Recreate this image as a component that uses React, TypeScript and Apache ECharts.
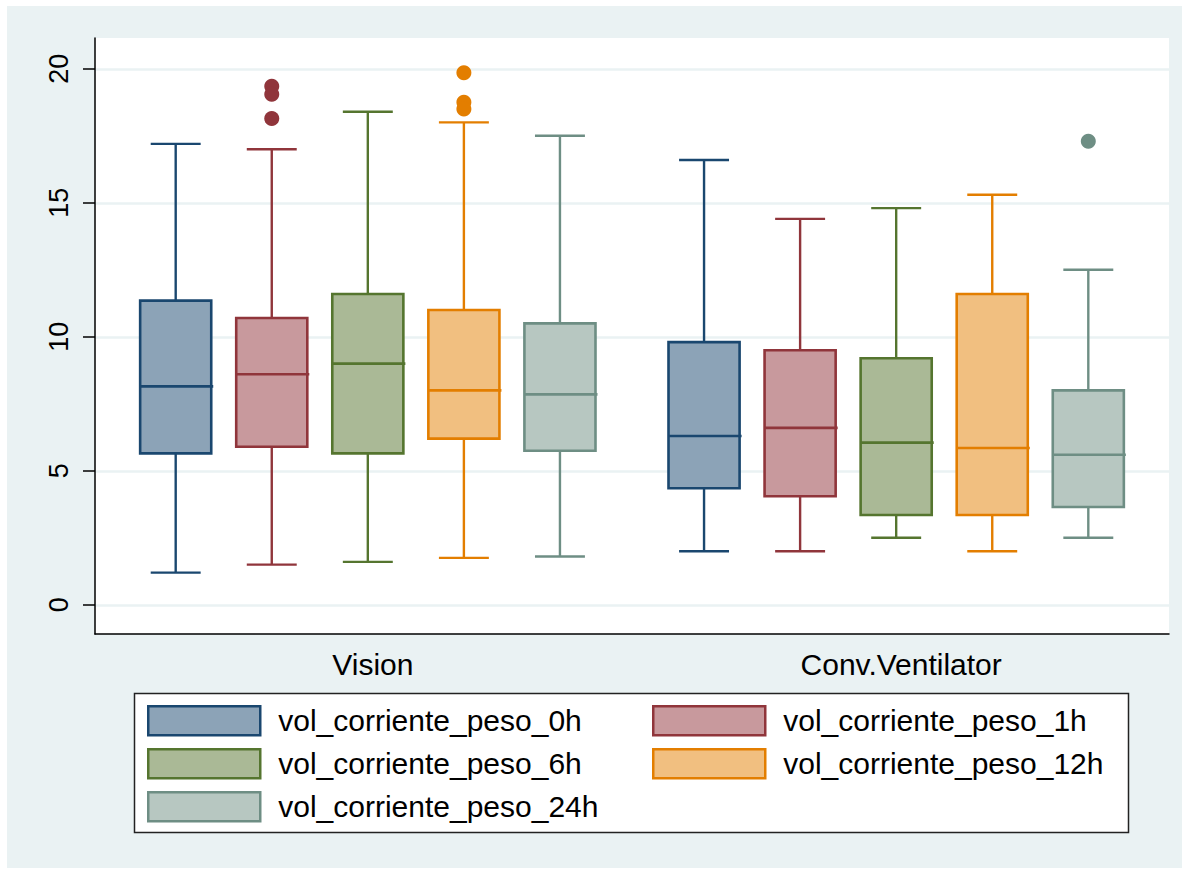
import React, { useEffect, useRef } from "react";
import * as echarts from "echarts";

// Groups on the horizontal axis and the five tidal-volume measurements
const groups = ["Vision", "Conv.Ventilator"];
const seriesNames = [
  "vol_corriente_peso_0h",
  "vol_corriente_peso_1h",
  "vol_corriente_peso_6h",
  "vol_corriente_peso_12h",
  "vol_corriente_peso_24h",
];

// Box statistics per group: [lower adjacent, Q1, median, Q3, upper adjacent]
const stats0h = [
  [1.2, 5.65, 8.15, 11.35, 17.2],
  [2.0, 4.35, 6.3, 9.8, 16.6],
];
const stats1h = [
  [1.5, 5.9, 8.6, 10.7, 17.0],
  [2.0, 4.05, 6.6, 9.5, 14.4],
];
const stats6h = [
  [1.6, 5.65, 9.0, 11.6, 18.4],
  [2.5, 3.35, 6.05, 9.2, 14.8],
];
const stats12h = [
  [1.75, 6.2, 8.0, 11.0, 18.0],
  [2.0, 3.35, 5.85, 11.6, 15.3],
];
const stats24h = [
  [1.8, 5.75, 7.85, 10.5, 17.5],
  [2.5, 3.65, 5.6, 8.0, 12.5],
];

// Outside values per group
const outliers0h = [[], []];
const outliers1h = [[19.35, 19.05, 18.15], []];
const outliers6h = [[], []];
const outliers12h = [[19.85, 18.75, 18.5], []];
const outliers24h = [[], [17.3]];

const yTicks = [0, 5, 10, 15, 20];

const allStats = [stats0h, stats1h, stats6h, stats12h, stats24h];
const allOutliers = [outliers0h, outliers1h, outliers6h, outliers12h, outliers24h];

// Stata s2color palette: outline / fill
const lineColors = ["#1A476F", "#90353B", "#55752F", "#E37E00", "#6E8E84"];
const fillColors = ["#8CA3B7", "#C8999D", "#AAB996", "#F1BF80", "#B7C7C1"];

const FONT = "'Liberation Sans', Arial, Helvetica, sans-serif";
const BG = "#EAF2F3";
const BOX_W = 0.74; // box width in slot units
const CAP_W = 0.52; // whisker cap width in slot units

// slot position of a box on the horizontal value axis
const slot = (g: number, s: number) => 1 + s + g * (seriesNames.length + 0.5);
const groupCenters = groups.map(
  (_, g) => (slot(g, 0) + slot(g, seriesNames.length - 1)) / 2
);

function buildOption() {
  const boxSeries = seriesNames.map((name, s) => ({
    name,
    type: "custom",
    itemStyle: { color: fillColors[s], borderColor: lineColors[s] },
    encode: { x: 0, y: [1, 2, 3, 4, 5] },
    data: groups.map((_, g) => [slot(g, s), ...allStats[s][g]]),
    renderItem: (_params: any, api: any) => {
      const x = api.value(0);
      const lo = api.coord([x, api.value(1)]);
      const q1 = api.coord([x, api.value(2)]);
      const md = api.coord([x, api.value(3)]);
      const q3 = api.coord([x, api.value(4)]);
      const hi = api.coord([x, api.value(5)]);
      const bw = api.size([BOX_W, 0])[0];
      const cw = api.size([CAP_W, 0])[0];
      const cx = lo[0];
      const ls = { stroke: lineColors[s], lineWidth: 2.4, fill: null };
      return {
        type: "group",
        children: [
          { type: "line", shape: { x1: cx, y1: q3[1], x2: cx, y2: hi[1] }, style: ls },
          { type: "line", shape: { x1: cx, y1: q1[1], x2: cx, y2: lo[1] }, style: ls },
          { type: "line", shape: { x1: cx - cw / 2, y1: hi[1], x2: cx + cw / 2, y2: hi[1] }, style: ls },
          { type: "line", shape: { x1: cx - cw / 2, y1: lo[1], x2: cx + cw / 2, y2: lo[1] }, style: ls },
          {
            type: "rect",
            shape: { x: cx - bw / 2, y: q3[1], width: bw, height: q1[1] - q3[1] },
            style: { fill: fillColors[s], stroke: lineColors[s], lineWidth: 2.6 },
          },
          {
            type: "line",
            shape: { x1: cx - bw / 2, y1: md[1], x2: cx + bw / 2 + 2, y2: md[1] },
            style: { stroke: lineColors[s], lineWidth: 2.6 },
          },
        ],
      };
    },
  }));

  const outlierSeries = seriesNames.map((name, s) => ({
    name,
    type: "scatter",
    symbol: "circle",
    symbolSize: 15,
    itemStyle: { color: lineColors[s], opacity: 1 },
    data: groups.flatMap((_, g) => allOutliers[s][g].map((v) => [slot(g, s), v])),
  }));

  const legendItem = (s: number) => ({
    name: seriesNames[s],
    icon: "rect",
    itemStyle: { color: fillColors[s], borderColor: lineColors[s], borderWidth: 2.5 },
  });
  const legendBase = {
    orient: "vertical",
    top: 699,
    padding: 0,
    itemWidth: 112,
    itemHeight: 29,
    itemGap: 11.5,
    selectedMode: true,
    textStyle: {
      fontFamily: FONT,
      fontSize: 30,
      color: "#000",
      lineHeight: 31,
      padding: [0, 0, 0, 13],
    },
  };

  return {
    animation: false,
    backgroundColor: BG,
    textStyle: { fontFamily: FONT },
    grid: {
      left: 88,
      top: 32,
      right: 13,
      bottom: 234,
      show: true,
      backgroundColor: "#ffffff",
      borderWidth: 0,
      containLabel: false,
      outerBoundsMode: "none",
    },
    xAxis: {
      type: "value",
      min: 0.16,
      max: 11.34,
      axisLine: { show: true, onZero: false, lineStyle: { color: "#000", width: 1.5 } },
      axisTick: { show: false },
      splitLine: { show: false },
      axisLabel: {
        customValues: groupCenters,
        formatter: (v: number) => {
          const i = groupCenters.findIndex((c) => Math.abs(c - v) < 1e-6);
          return i >= 0 ? groups[i] : "";
        },
        fontFamily: FONT,
        fontSize: 30,
        color: "#000",
        margin: 15,
        padding: [0, 0, 0, 10],
      },
    },
    yAxis: {
      type: "value",
      min: -1.09,
      max: 21.15,
      axisLine: { show: true, onZero: false, lineStyle: { color: "#000", width: 1.5 } },
      axisTick: {
        show: true,
        length: 12,
        customValues: yTicks,
        lineStyle: { color: "#000", width: 1.5 },
      },
      axisLabel: {
        customValues: yTicks,
        rotate: 90,
        fontFamily: FONT,
        fontSize: 27,
        color: "#000",
        margin: 23,
      },
      splitLine: { show: true, lineStyle: { color: BG, width: 2.5 } },
    },
    legend: [
      { ...legendBase, left: 140, data: [0, 2, 4].map(legendItem) },
      { ...legendBase, left: 645, data: [1, 3].map(legendItem) },
    ],
    graphic: [
      {
        type: "rect",
        z: 0,
        shape: { x: 127.5, y: 687.5, width: 994, height: 139 },
        style: { fill: "#ffffff", stroke: "#222", lineWidth: 1.5 },
      },
    ],
    series: [...boxSeries, ...outlierSeries],
  };
}

export default function App() {
  const ref = useRef<HTMLDivElement>(null);
  useEffect(() => {
    if (!ref.current) return;
    const chart = echarts.init(ref.current, null, { renderer: "svg" });
    chart.setOption(buildOption() as any);
    return () => chart.dispose();
  }, []);
  return (
    <div
      ref={ref}
      style={{ position: "absolute", left: 7, top: 6, width: 1175, height: 862 }}
    />
  );
}
